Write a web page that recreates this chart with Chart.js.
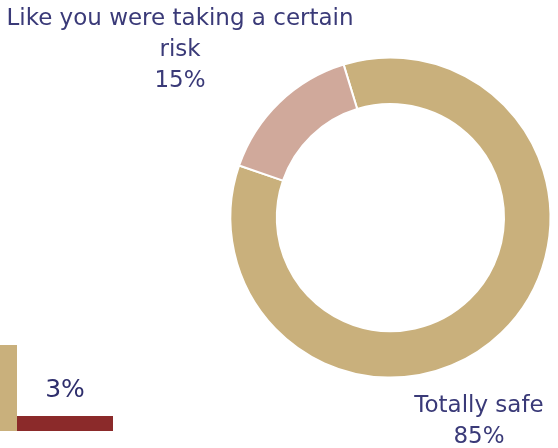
<!DOCTYPE html>
<html>
<head>
<meta charset="utf-8">
<script src="https://cdn.jsdelivr.net/npm/chart.js@4/dist/chart.umd.min.js"></script>
<style>
  html, body { margin: 0; padding: 0; background: #ffffff; }
  #wrap { position: relative; width: 558px; height: 448px; overflow: hidden; }
  #donut { position: absolute; left: 0; top: 0; }
  #bars { position: absolute; left: 0; top: 345px; }
</style>
</head>
<body>
<div id="wrap">
  <canvas id="donut" width="558" height="448"></canvas>
  <canvas id="bars" width="113" height="86"></canvas>
</div>
<script>
// Answers: how did it feel?
const sliceLabels = ['Totally safe', 'Like you were taking a certain risk'];
const sliceValues = [85, 15];
const sliceColors = ['#c9b07c', '#d0a99b'];

// Small bar block at the lower left
const barCategories = ['Other'];
const barValues = [3];
const barColor = '#8b2a2a';
const bandColor = '#c9b07c';

const textColor = '#3a3a78';
const fontFamily = '"DejaVu Sans", "Liberation Sans", sans-serif';

// Outside labels for the doughnut: name (wrapped) plus percentage
const outsideLabels = {
  id: 'outsideLabels',
  afterDraw(chart, args, opts) {
    const ctx = chart.ctx;
    const data = chart.data.datasets[0].data;
    ctx.save();
    ctx.font = opts.size + 'px ' + fontFamily;
    ctx.fillStyle = textColor;
    ctx.textAlign = 'center';
    ctx.textBaseline = 'alphabetic';
    chart.data.labels.forEach((name, i) => {
      const place = opts.places[i];
      const lines = [];
      let cur = '';
      name.split(' ').forEach(w => {
        const t = cur ? cur + ' ' + w : w;
        if (cur && ctx.measureText(t).width > opts.maxWidth) { lines.push(cur); cur = w; }
        else cur = t;
      });
      lines.push(cur);
      lines.push(data[i] + '%');
      lines.forEach((ln, k) => ctx.fillText(ln, place.x, place.y + k * opts.lineHeight));
    });
    ctx.restore();
  }
};

new Chart(document.getElementById('donut'), {
  type: 'doughnut',
  data: {
    labels: sliceLabels,
    datasets: [{
      data: sliceValues,
      backgroundColor: sliceColors,
      borderColor: '#ffffff',
      borderWidth: 2,
      hoverOffset: 0
    }]
  },
  options: {
    responsive: false,
    animation: false,
    rotation: -17,
    cutout: '71%',
    layout: { padding: { left: 229.4, right: 6.6, top: 56.6, bottom: 69.4 } },
    plugins: {
      legend: { display: false },
      tooltip: { enabled: false },
      outsideLabels: {
        size: 23,
        lineHeight: 31,
        maxWidth: 360,
        places: [ { x: 479, y: 411.5 }, { x: 180, y: 25 } ]
      }
    }
  },
  plugins: [outsideLabels]
});

// Value label above each bar
const barValueLabels = {
  id: 'barValueLabels',
  afterDatasetsDraw(chart, args, opts) {
    const ctx = chart.ctx;
    const meta = chart.getDatasetMeta(0);
    const left = chart.scales.x.getPixelForValue(0);
    ctx.save();
    ctx.font = opts.size + 'px ' + fontFamily;
    ctx.fillStyle = opts.color;
    ctx.textAlign = 'center';
    ctx.textBaseline = 'alphabetic';
    meta.data.forEach((bar, i) => {
      const v = chart.data.datasets[0].data[i];
      ctx.fillText(v + '%', (left + bar.x) / 2, bar.y - bar.height / 2 - opts.gap);
    });
    ctx.restore();
  }
};

const hiddenAxis = {
  ticks: { display: false },
  grid: { display: false },
  border: { display: false }
};

new Chart(document.getElementById('bars'), {
  type: 'bar',
  data: {
    labels: barCategories,
    datasets: [{
      data: barValues,
      xAxisID: 'x',
      yAxisID: 'y',
      backgroundColor: barColor,
      borderWidth: 0,
      barPercentage: 1,
      categoryPercentage: 1
    }]
  },
  options: {
    indexAxis: 'y',
    responsive: false,
    animation: false,
    layout: { padding: 0 },
    scales: {
      x: { type: 'linear', min: 0, max: 3, display: false },
      y: Object.assign({
        type: 'category', position: 'left', stack: 'band', stackWeight: 15, weight: 0,
        offset: true,
        backgroundColor: bandColor,
        afterFit(s) { s.width = 17; }
      }, hiddenAxis),
      yTop: Object.assign({
        type: 'linear', axis: 'y', position: 'left', stack: 'band', stackWeight: 71, weight: 1,
        backgroundColor: bandColor,
        afterFit(s) { s.width = 17; }
      }, hiddenAxis)
    },
    plugins: {
      legend: { display: false },
      tooltip: { enabled: false },
      barValueLabels: { size: 25, color: '#2e2e6c', gap: 19 }
    }
  },
  plugins: [barValueLabels]
});
</script>
</body>
</html>
